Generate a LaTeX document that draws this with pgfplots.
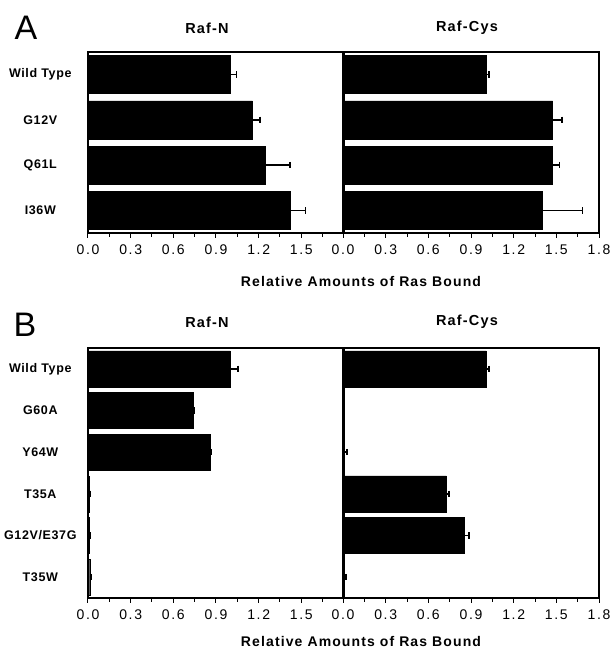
\documentclass[border=0pt]{standalone}
\usepackage{fontspec}
\setmainfont{Liberation Sans}[LetterSpace=5]
\newfontfamily\tickfont{Liberation Sans}[LetterSpace=12]
\newfontfamily\labfont{Liberation Sans}[LetterSpace=8]
\usepackage{pgfplots}
\pgfplotsset{compat=1.18}

\pgfplotsset{
  panel/.style={
    scale only axis, width=256pt,
    xmin=0, xmax=1.8, y dir=reverse,
    xbar, bar shift=0pt,
    xtick={0,0.3,0.6,0.9,1.2,1.5,1.8},
    minor x tick num=1,
    xtick pos=bottom, tick align=outside,
    ytick style={draw=none},
    major tick length=4.5pt, minor tick length=3.5pt,
    axis line style={line width=1.3pt},
    tick style={line width=1pt, black},
    xticklabel style={font=\tickfont\fontsize{14}{14}\selectfont, inner sep=1pt, yshift=-6pt},
    yticklabel style={font=\bfseries\fontsize{12.5}{14}\selectfont, text width=80pt,
      align=center, inner sep=0pt, xshift=-3pt},
  },
  leftpanel/.style={panel, xticklabels={0.0,0.3,0.6,0.9,1.2,1.5,{}}},
  rightpanel/.style={panel, yticklabels={}, xticklabels={0.0,0.3,0.6,0.9,1.2,1.5,1.8}},
  errs/.style={fill=black, draw=black,
    error bars/.cd, x dir=plus, x explicit, error mark=|,
    error bar style={line width=1.5pt, draw=black},
    error mark options={line width=1.5pt, mark size=3.2pt, draw=black}},
}

\begin{document}
\begin{tikzpicture}
\path[use as bounding box] (0,0) rectangle (611pt,-651pt);

% panel A
\begin{axis}[leftpanel, at={(88pt,-52pt)}, anchor=north west, height=181pt,
  ymin=-0.5, ymax=3.5, ytick={0,1,2,3}, bar width=38pt,
  yticklabels={Wild Type,G12V,Q61L,I36W}]
  \addplot[errs] coordinates {(1.0,0) +- (0.045,0) (1.156,1) +- (0.055,0)
    (1.245,2) +- (0.175,0) (1.425,3) +- (0.105,0)};
\end{axis}
\begin{axis}[rightpanel, at={(343pt,-52pt)}, anchor=north west, height=181pt,
  ymin=-0.5, ymax=3.5, ytick={0,1,2,3}, bar width=38pt]
  \addplot[errs] coordinates {(1.005,0) +- (0.02,0) (1.474,1) +- (0.065,0)
    (1.474,2) +- (0.05,0) (1.404,3) +- (0.28,0)};
\end{axis}

% panel B
\begin{axis}[leftpanel, at={(88pt,-348pt)}, anchor=north west, height=250pt,
  ymin=-0.5, ymax=5.5, ytick={0,1,2,3,4,5}, bar width=36pt,
  yticklabels={Wild Type,G60A,Y64W,T35A,G12V/E37G,T35W}]
  \addplot[errs] coordinates {(1.0,0) +- (0.055,0) (0.74,1) +- (0.008,0)
    (0.858,2) +- (0.008,0) (0.005,3) +- (0.01,0) (0.005,4) +- (0.01,0)
    (0.012,5) +- (0.008,0)};
\end{axis}
\begin{axis}[rightpanel, at={(343pt,-348pt)}, anchor=north west, height=250pt,
  ymin=-0.5, ymax=5.5, ytick={0,1,2,3,4,5}, bar width=36pt]
  \addplot[errs] coordinates {(1.007,0) +- (0.02,0)
    (0.008,2) +- (0.02,0) (0.727,3) +- (0.02,0) (0.855,4) +- (0.03,0)
    (0.01,5) +- (0.01,0)};
\end{axis}

% titles and labels
\node[font=\fontsize{34}{34}\selectfont] at (26pt,-28pt) {A};
\node[font=\fontsize{34}{34}\selectfont] at (25pt,-325pt) {B};
\node[font=\labfont\bfseries\fontsize{14.5}{16}\selectfont] at (207pt,-28pt) {Raf-N};
\node[font=\labfont\bfseries\fontsize{14.5}{16}\selectfont] at (467pt,-28pt) {Raf-Cys};
\node[font=\labfont\bfseries\fontsize{14.5}{16}\selectfont] at (207pt,-322pt) {Raf-N};
\node[font=\labfont\bfseries\fontsize{14.5}{16}\selectfont] at (467pt,-322pt) {Raf-Cys};
\node[font=\labfont\bfseries\fontsize{14}{16}\selectfont] at (361pt,-281pt) {Relative Amounts of Ras Bound};
\node[font=\labfont\bfseries\fontsize{14}{16}\selectfont] at (361pt,-641pt) {Relative Amounts of Ras Bound};
\end{tikzpicture}
\end{document}
